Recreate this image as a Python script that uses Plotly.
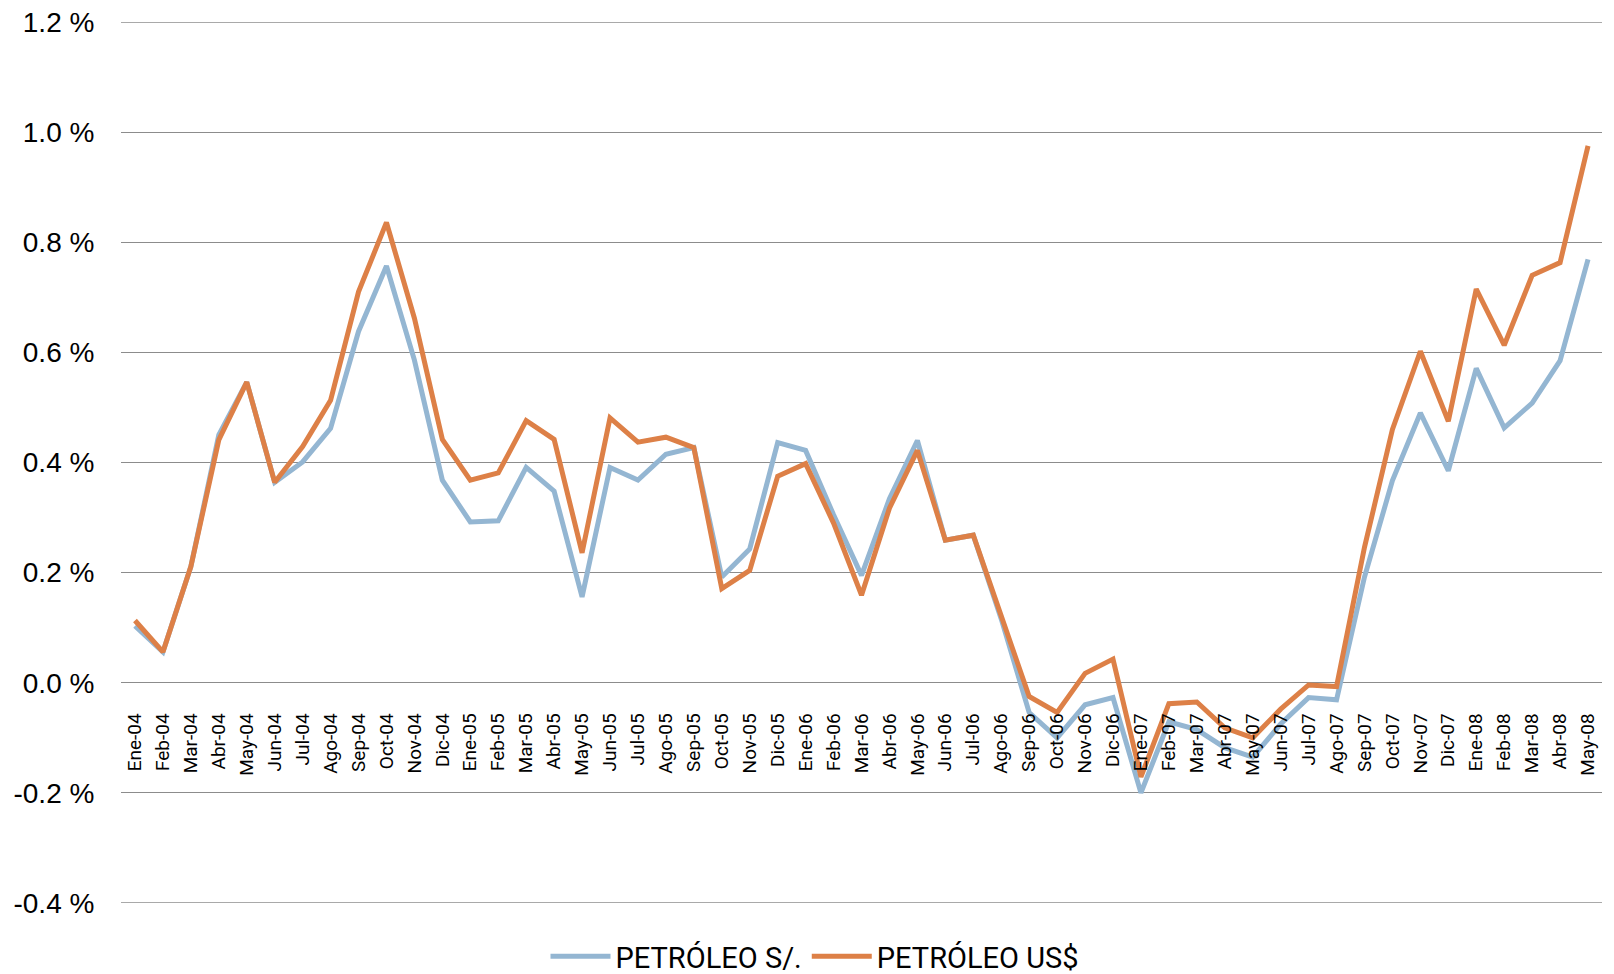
import plotly.graph_objects as go

months = ["Ene-04", "Feb-04", "Mar-04", "Abr-04", "May-04", "Jun-04", "Jul-04", "Ago-04", "Sep-04", "Oct-04", "Nov-04", "Dic-04",
          "Ene-05", "Feb-05", "Mar-05", "Abr-05", "May-05", "Jun-05", "Jul-05", "Ago-05", "Sep-05", "Oct-05", "Nov-05", "Dic-05",
          "Ene-06", "Feb-06", "Mar-06", "Abr-06", "May-06", "Jun-06", "Jul-06", "Ago-06", "Sep-06", "Oct-06", "Nov-06", "Dic-06",
          "Ene-07", "Feb-07", "Mar-07", "Abr-07", "May-07", "Jun-07", "Jul-07", "Ago-07", "Sep-07", "Oct-07", "Nov-07", "Dic-07",
          "Ene-08", "Feb-08", "Mar-08", "Abr-08", "May-08"]

petroleo_soles = [0.103, 0.056, 0.211, 0.450, 0.546, 0.364, 0.401, 0.462, 0.638, 0.757, 0.586, 0.368,
                  0.292, 0.294, 0.391, 0.348, 0.156, 0.391, 0.368, 0.415, 0.427, 0.192, 0.243, 0.436,
                  0.422, 0.305, 0.195, 0.334, 0.440, 0.259, 0.268, 0.116, -0.054, -0.100, -0.040, -0.027,
                  -0.200, -0.071, -0.085, -0.118, -0.135, -0.075, -0.027, -0.031, 0.192, 0.367, 0.490, 0.385,
                  0.571, 0.463, 0.508, 0.585, 0.769]

petroleo_usd = [0.113, 0.056, 0.211, 0.441, 0.546, 0.364, 0.429, 0.513, 0.710, 0.836, 0.662, 0.442,
                0.368, 0.381, 0.476, 0.442, 0.236, 0.481, 0.437, 0.446, 0.427, 0.171, 0.204, 0.375,
                0.398, 0.290, 0.159, 0.317, 0.422, 0.259, 0.268, 0.124, -0.025, -0.054, 0.017, 0.043,
                -0.171, -0.038, -0.035, -0.082, -0.100, -0.048, -0.004, -0.007, 0.246, 0.460, 0.602, 0.475,
                0.715, 0.613, 0.740, 0.763, 0.975]

y_tick_vals = [-0.4, -0.2, 0.0, 0.2, 0.4, 0.6, 0.8, 1.0, 1.2]
y_tick_text = ["-0.4 %", "-0.2 %", "0.0 %", "0.2 %", "0.4 %", "0.6 %", "0.8 %", "1.0 %", "1.2 %"]

grid_color = "#8C8C8C"

fig = go.Figure()
fig.add_trace(go.Scatter(x=months, y=petroleo_soles, mode="lines", name="PETRÓLEO S/.",
                         line=dict(color="#94B6D2", width=5)))
fig.add_trace(go.Scatter(x=months, y=petroleo_usd, mode="lines", name="PETRÓLEO US$",
                         line=dict(color="#DD8047", width=5)))

# edge gridlines (top and bottom of the value range)
for v in (y_tick_vals[0], y_tick_vals[-1]):
    fig.add_shape(type="line", xref="paper", x0=0, x1=1, yref="y", y0=v, y1=v,
                  line=dict(color=grid_color, width=1.3), layer="below")

fig.update_layout(
    width=1614, height=974,
    margin=dict(l=113, r=20, t=14, b=79, autoexpand=False),
    paper_bgcolor="white", plot_bgcolor="white",
    showlegend=True,
    legend=dict(orientation="h", xref="container", yref="container", x=0.5, xanchor="center",
                y=0.0, yanchor="bottom",
                font=dict(family="Roboto, Lato, sans-serif", size=29, color="#000000"),
                itemwidth=60, bgcolor="rgba(0,0,0,0)"),
    xaxis=dict(type="category", categoryorder="array", categoryarray=months,
               range=[-0.5, len(months) - 0.5], automargin=False,
               anchor="free", position=0.25,
               showgrid=False, showline=False, zeroline=False,
               tickangle=-90, ticks="outside", ticklen=22, tickcolor="rgba(0,0,0,0)",
               tickfont=dict(family="Liberation Sans Narrow, Roboto, sans-serif", size=19, color="#000000")),
    yaxis=dict(range=[-0.4000001, 1.2000001], tickvals=y_tick_vals, ticktext=y_tick_text, automargin=False,
               ticklabeloverflow="allow",
               showgrid=True, gridcolor=grid_color, gridwidth=1.3, zeroline=False, showline=False,
               ticks="outside", ticklen=20, tickcolor="rgba(0,0,0,0)",
               tickfont=dict(family="Liberation Sans, Arial, sans-serif", size=28, color="#000000")),
)

fig.write_html("out.html")
